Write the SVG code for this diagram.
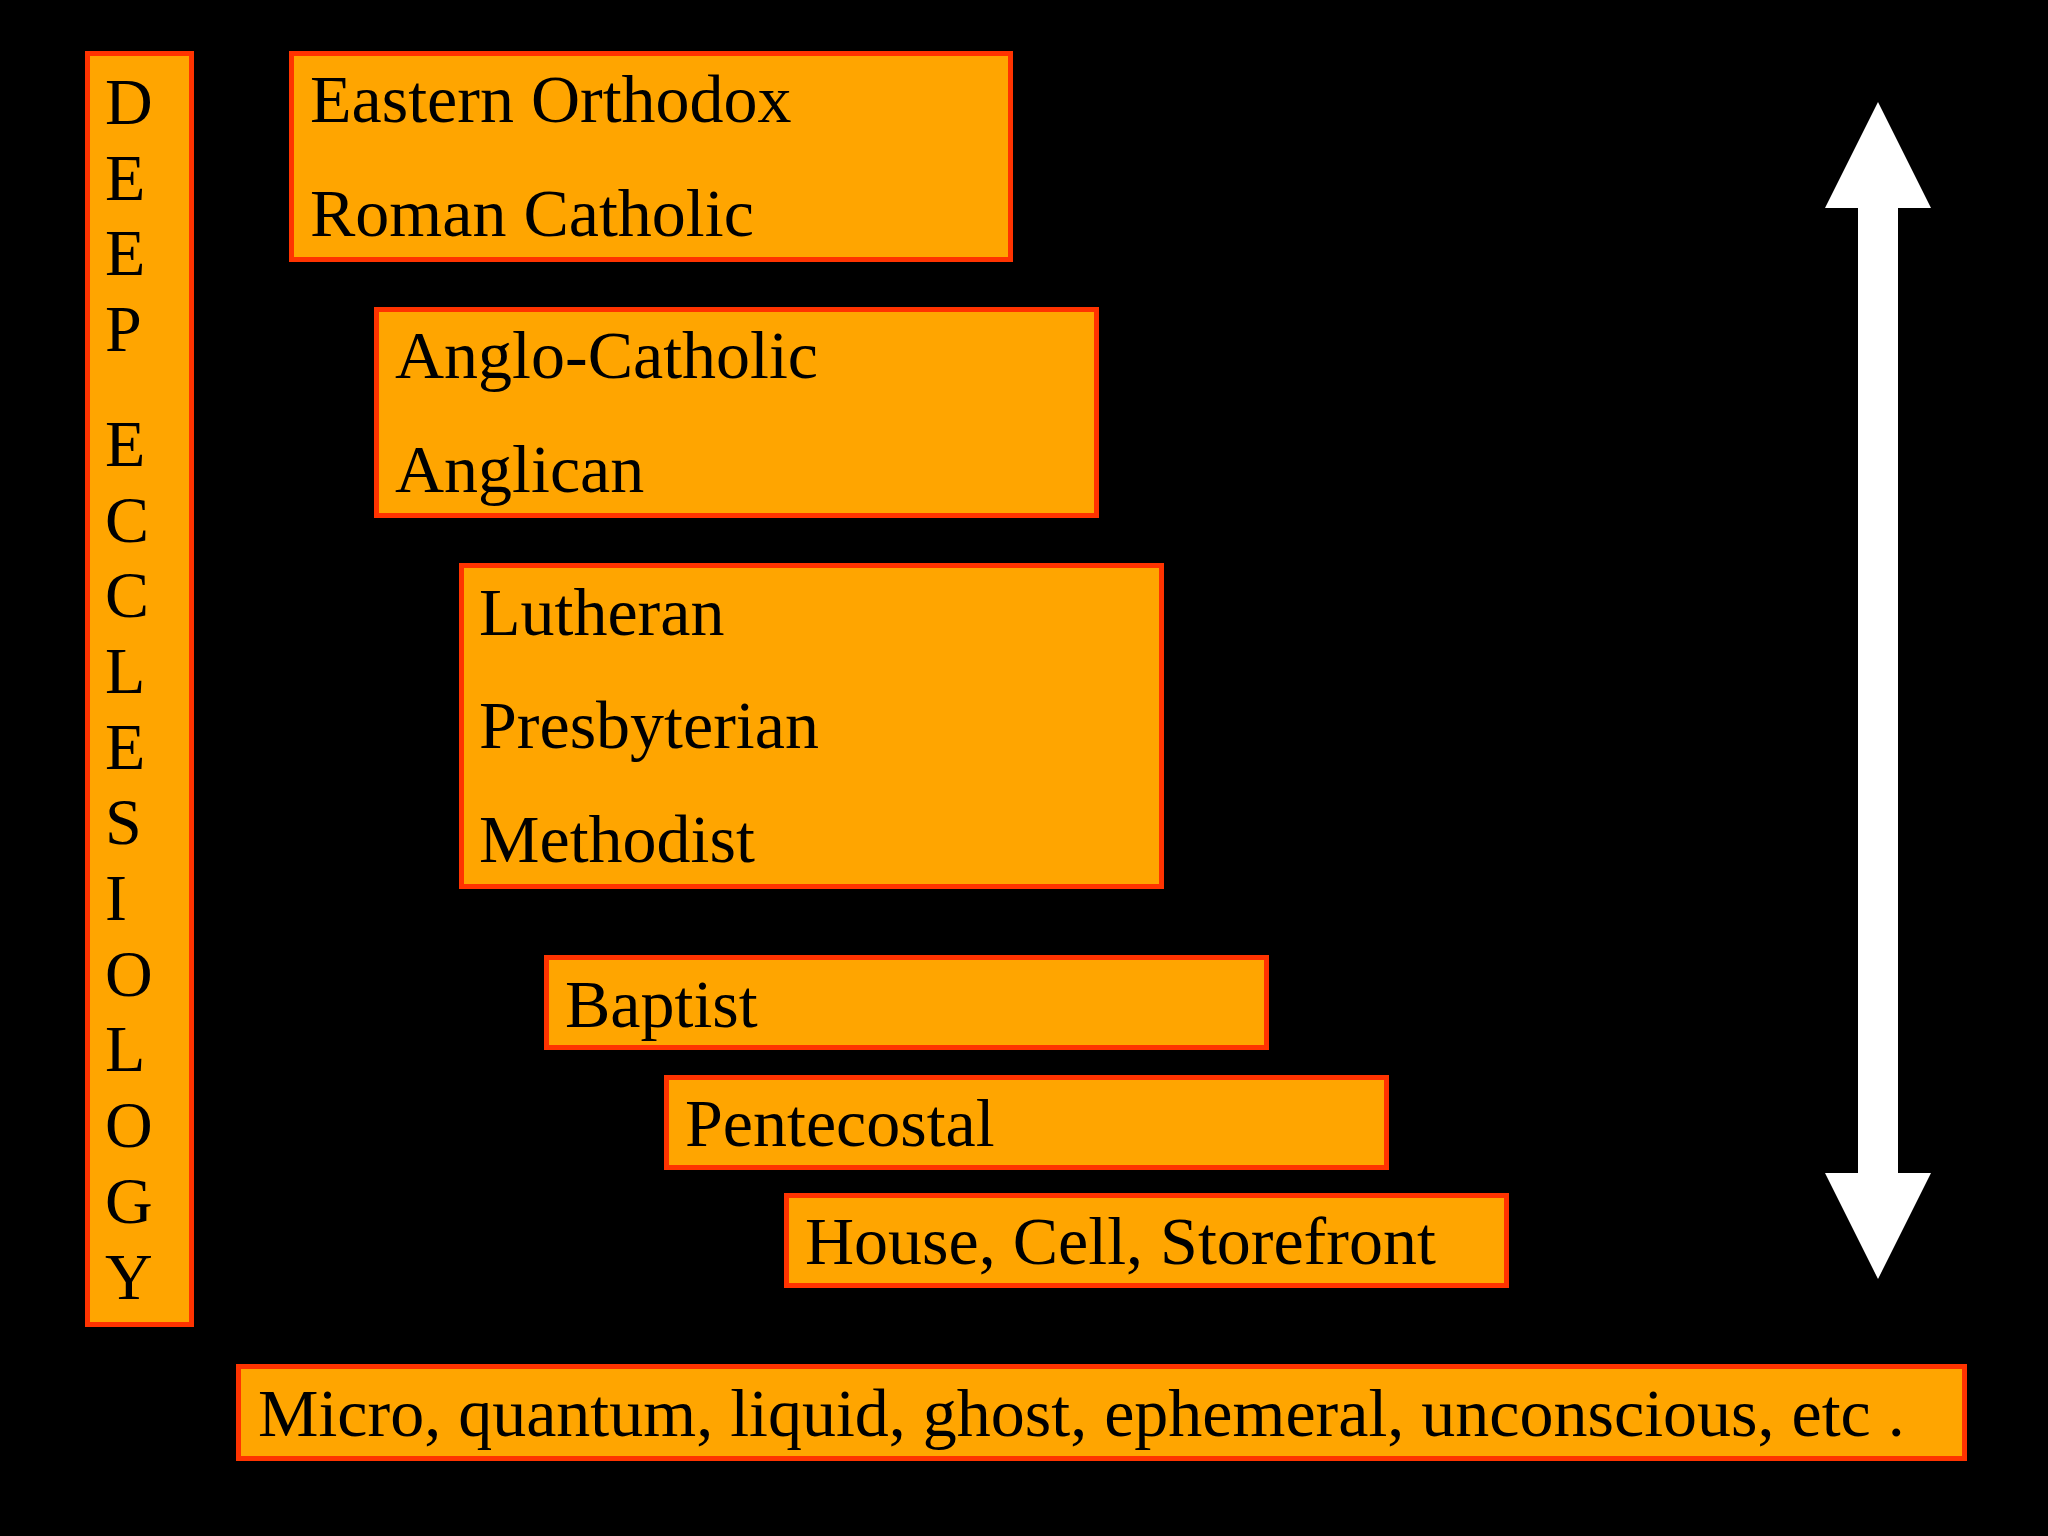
<svg xmlns="http://www.w3.org/2000/svg" width="2048" height="1536" viewBox="0 0 2048 1536">
<style>
.box{fill:#FFA500;stroke:#FF3300;stroke-width:5}
.t{font-family:"Liberation Serif","Times New Roman",serif;font-size:68px;fill:#000}
.v{font-family:"Liberation Serif","Times New Roman",serif;font-size:66px;fill:#000}
</style>
<rect width="2048" height="1536" fill="#000"/>
<g id="title">
<rect class="box" x="87.5" y="53.5" width="104" height="1271"/>
<text class="v" x="105" y="124">D</text>
<text class="v" x="105" y="200">E</text>
<text class="v" x="105" y="275">E</text>
<text class="v" x="105" y="351">P</text>
<text class="v" x="105" y="466">E</text>
<text class="v" x="105" y="542">C</text>
<text class="v" x="105" y="617">C</text>
<text class="v" x="105" y="693">L</text>
<text class="v" x="105" y="769">E</text>
<text class="v" x="105" y="844">S</text>
<text class="v" x="105" y="920">I</text>
<text class="v" x="105" y="996">O</text>
<text class="v" x="105" y="1071">L</text>
<text class="v" x="105" y="1147">O</text>
<text class="v" x="105" y="1223">G</text>
<text class="v" x="105" y="1299">Y</text>
</g>
<g id="box1">
<rect class="box" x="291.5" y="53.5" width="719" height="206"/>
<text class="t" x="310" y="122">Eastern Orthodox</text>
<text class="t" x="310" y="236">Roman Catholic</text>
</g>
<g id="box2">
<rect class="box" x="376.5" y="309.5" width="720" height="206"/>
<text class="t" x="395" y="378">Anglo-Catholic</text>
<text class="t" x="395" y="492">Anglican</text>
</g>
<g id="box3">
<rect class="box" x="461.5" y="565.5" width="700" height="321"/>
<text class="t" x="479" y="635">Lutheran</text>
<text class="t" x="479" y="748">Presbyterian</text>
<text class="t" x="479" y="862">Methodist</text>
</g>
<g id="box4">
<rect class="box" x="546.5" y="957.5" width="720" height="90"/>
<text class="t" x="565" y="1027">Baptist</text>
</g>
<g id="box5">
<rect class="box" x="666.5" y="1077.5" width="720" height="90"/>
<text class="t" x="685" y="1146">Pentecostal</text>
</g>
<g id="box6">
<rect class="box" x="786.5" y="1195.5" width="720" height="90"/>
<text class="t" x="805" y="1264">House, Cell, Storefront</text>
</g>
<g id="bottom">
<rect class="box" x="238.5" y="1366.5" width="1726" height="92"/>
<text class="t" x="258" y="1436">Micro, quantum, liquid, ghost, ephemeral, unconscious, etc .</text>
</g>
<g id="connectors">
<polygon fill="#fff" points="1878,102 1931,208 1898,208 1898,1173 1931,1173 1878,1279 1825,1173 1858,1173 1858,208 1825,208"/>
</g>
</svg>
